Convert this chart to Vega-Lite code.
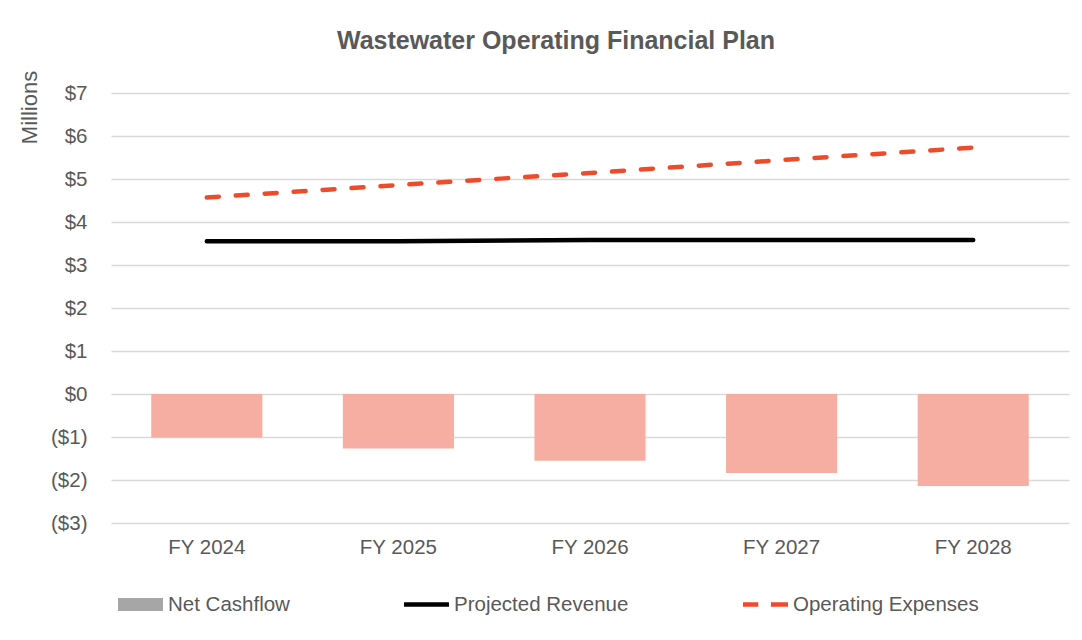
{
  "$schema": "https://vega.github.io/schema/vega-lite/v6.json",
  "autosize": "none",
  "width": 958,
  "height": 430,
  "padding": {"left": 111, "top": 93, "right": 13, "bottom": 117},
  "background": "white",
  "config": {
    "font": "Liberation Sans",
    "view": {"stroke": null},
    "axis": {"labelFont": "Liberation Sans", "labelColor": "#595959", "labelFontSize": 20.5, "titleFont": "Liberation Sans", "titleColor": "#595959", "titleFontWeight": "normal"},
    "legend": {"labelFont": "Liberation Sans", "labelColor": "#595959", "labelFontSize": 20.5, "labelLimit": 400}
  },
  "title": {
    "text": "Wastewater Operating Financial Plan",
    "font": "Liberation Sans",
    "fontSize": 25,
    "fontWeight": "bold",
    "color": "#595959",
    "anchor": "middle",
    "frame": "group",
    "baseline": "alphabetic",
    "offset": 30,
    "dx": -34,
    "dy": 34
  },
  "data": {
    "values": [
      {"year": "FY 2024", "series": "Net Cashflow", "value": -1.01},
      {"year": "FY 2025", "series": "Net Cashflow", "value": -1.27},
      {"year": "FY 2026", "series": "Net Cashflow", "value": -1.55},
      {"year": "FY 2027", "series": "Net Cashflow", "value": -1.84},
      {"year": "FY 2028", "series": "Net Cashflow", "value": -2.14},
      {"year": "FY 2024", "series": "Projected Revenue", "value": 3.55},
      {"year": "FY 2025", "series": "Projected Revenue", "value": 3.55},
      {"year": "FY 2026", "series": "Projected Revenue", "value": 3.58},
      {"year": "FY 2027", "series": "Projected Revenue", "value": 3.58},
      {"year": "FY 2028", "series": "Projected Revenue", "value": 3.58},
      {"year": "FY 2024", "series": "Operating Expenses", "value": 4.57},
      {"year": "FY 2025", "series": "Operating Expenses", "value": 4.86},
      {"year": "FY 2026", "series": "Operating Expenses", "value": 5.14},
      {"year": "FY 2027", "series": "Operating Expenses", "value": 5.44},
      {"year": "FY 2028", "series": "Operating Expenses", "value": 5.73}
    ]
  },
  "encoding": {
    "x": {
      "field": "year", "type": "nominal", "sort": null,
      "scale": {"paddingInner": 0.42, "paddingOuter": 0.21},
      "axis": {"title": null, "labelAngle": 0, "ticks": false, "domain": false, "labelPadding": 14, "grid": false}
    },
    "y": {
      "field": "value", "type": "quantitative",
      "scale": {"domain": [-3, 7], "nice": false, "zero": false},
      "axis": {
        "values": [-3, -2, -1, 0, 1, 2, 3, 4, 5, 6, 7],
        "title": "Millions",
        "titleFontSize": 22,
        "titleAngle": -90,
        "titleAlign": "center",
        "titleBaseline": "middle",
        "titleX": -82,
        "titleY": 14,
        "domain": false,
        "ticks": false,
        "labelPadding": 24,
        "gridColor": "#d9d9d9",
        "gridWidth": 1.5,
        "labelExpr": "datum.value < 0 ? '($' + abs(datum.value) + ')' : '$' + datum.value"
      }
    }
  },
  "layer": [
    {
      "transform": [{"filter": "datum.series === 'Net Cashflow'"}],
      "mark": {"type": "bar", "color": "#F6AEA3", "opacity": 1}
    },
    {
      "transform": [{"filter": "datum.series === 'Projected Revenue'"}],
      "mark": {"type": "line", "strokeWidth": 4.5, "strokeCap": "round"},
      "encoding": {
        "color": {
          "field": "series", "type": "nominal",
          "scale": {"domain": ["Net Cashflow", "Projected Revenue", "Operating Expenses"], "range": ["#a6a6a6", "#000000", "#EF4B2B"]},
          "legend": {
            "title": null,
            "orient": "none",
            "direction": "horizontal",
            "legendX": 7,
            "legendY": 489,
            "columnPadding": 114,
            "labelOffset": 5,
            "symbolSize": 2025,
            "symbolStrokeWidth": 0,
            "encode": {
              "symbols": {
                "update": {
                  "shape": {"signal": "datum.value === 'Net Cashflow' ? 'M-1,-0.29H1V0.29H-1Z' : (datum.value === 'Projected Revenue' ? 'M-1,-0.29H1M-1,0.29H1M-1,-0.095H1V0.095H-1Z' : 'M-1,-0.29H1M-1,0.29H1M-1,-0.095H-0.32V0.095H-1Z M0.24,-0.095H1V0.095H0.24Z')"},
                  "fill": {"signal": "datum.value === 'Net Cashflow' ? '#a6a6a6' : (datum.value === 'Projected Revenue' ? '#000000' : '#EF4B2B')"},
                  "fillOpacity": {"value": 1},
                  "stroke": {"value": "transparent"},
                  "opacity": {"value": 1}
                }
              }
            }
          }
        }
      }
    },
    {
      "transform": [{"filter": "datum.series === 'Operating Expenses'"}],
      "mark": {"type": "line", "strokeWidth": 4.5, "strokeCap": "round", "strokeDash": [12, 17]},
      "encoding": {
        "color": {"field": "series", "type": "nominal"}
      }
    }
  ]
}
